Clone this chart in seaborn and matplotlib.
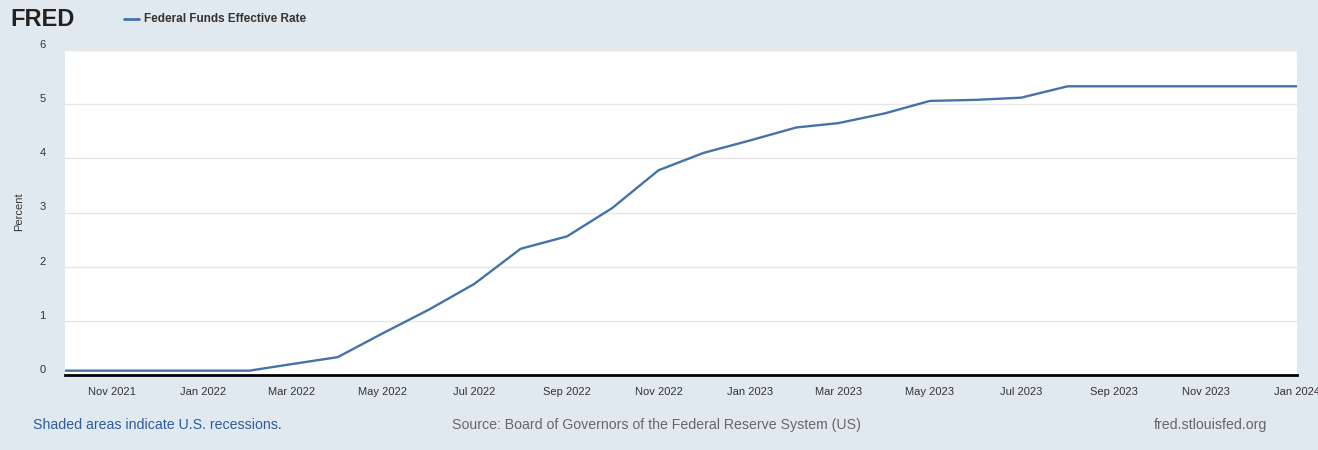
import matplotlib
matplotlib.use("Agg")
import matplotlib.pyplot as plt
import matplotlib.dates as mdates
import seaborn as sns
import pandas as pd

months = pd.date_range("2021-10-01", "2024-01-01", freq="MS")
rates = [0.08, 0.08, 0.08, 0.08, 0.08, 0.20, 0.33, 0.77, 1.21, 1.68, 2.33, 2.56,
         3.08, 3.78, 4.10, 4.33, 4.57, 4.65, 4.83, 5.06, 5.08, 5.12, 5.33, 5.33,
         5.33, 5.33, 5.33, 5.33]
yticks = [0, 1, 2, 3, 4, 5, 6]
df = pd.DataFrame({"date": months, "rate": rates})

sns.set_style("white")
plt.rcParams['font.family'] = ['Liberation Sans', 'DejaVu Sans']
bg = "#e1e9f0"
fig = plt.figure(figsize=(13.18, 4.5), dpi=100, facecolor=bg)
ax = fig.add_axes([65/1318, 1-375/450, (1297-65)/1318, 325/450])
sns.lineplot(data=df, x="date", y="rate", ax=ax, color="#4572a7", linewidth=1.7)
ax.set_ylim(0, 6)
ax.set_xlim(months[0], months[-1])
ax.set_yticks(yticks)
ax.set_yticklabels([str(v) for v in yticks], fontsize=8, color="#333333")
ax.yaxis.set_tick_params(length=0, pad=14)
for lab in ax.get_yticklabels():
    lab.set_verticalalignment("bottom")
ax.grid(axis="y", color="#e6e6e6", linewidth=1)
ax.xaxis.set_major_locator(mdates.MonthLocator(bymonth=[1, 3, 5, 7, 9, 11]))
ax.xaxis.set_major_formatter(mdates.DateFormatter("%b %Y"))
ax.tick_params(axis="x", labelsize=8, colors="#333333", length=5, width=1, color="#aaaaaa")
for s in ["top", "right", "left"]:
    ax.spines[s].set_visible(False)
ax.spines["bottom"].set_color("black")
ax.spines["bottom"].set_linewidth(2)
ax.set_xlabel("")
ax.set_ylabel("")
fig.text(19/1318, 1-212/450, "Percent", fontsize=8, color="#333333", rotation=90,
         ha="center", va="center")

fig.text(10/1318, 1-20/450, "FRED", fontsize=17, fontweight="bold", color="#222222", va="center")
fig.add_artist(plt.Line2D([124/1318, 139/1318], [1-19/450]*2, color="#4572a7", linewidth=2))
fig.text(144/1318, 1-19/450, "Federal Funds Effective Rate", fontsize=8.5, fontweight="bold",
         color="#333333", va="center")
fig.text(33/1318, 1-425/450, "Shaded areas indicate U.S. recessions.", fontsize=10.2,
         color="#2c5c9a", va="center")
fig.text(452/1318, 1-425/450, "Source: Board of Governors of the Federal Reserve System (US)",
         fontsize=10.2, color="#666666", va="center")
fig.text(1267/1318, 1-425/450, "fred.stlouisfed.org", fontsize=10.2, color="#666666",
         va="center", ha="right")
fig.savefig("out.png", dpi=100, facecolor=bg)
